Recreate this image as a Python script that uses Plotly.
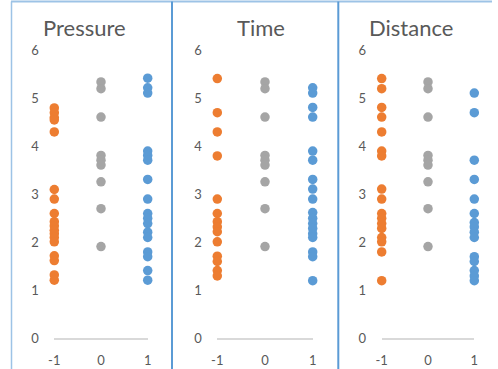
import plotly.graph_objects as go

W, H = 498, 369

panels = ["Pressure", "Time", "Distance"]
x_groups = [-1, 0, 1]
x_ticks = [-1, 0, 1]
y_ticks = [0, 1, 2, 3, 4, 5, 6]

pressure_neg = [4.8, 4.7, 4.6, 4.55, 4.3, 3.1, 2.9, 2.6, 2.43, 2.34, 2.25, 2.18, 2.1, 2.01, 1.72, 1.62, 1.32, 1.21]
pressure_zero = [5.34, 5.2, 4.61, 3.81, 3.71, 3.61, 3.26, 2.7, 1.91]
pressure_pos = [5.42, 5.22, 5.11, 3.9, 3.81, 3.71, 3.31, 2.9, 2.6, 2.5, 2.39, 2.21, 2.1, 1.8, 1.7, 1.41, 1.21]

time_neg = [5.41, 4.7, 4.3, 3.8, 2.9, 2.6, 2.43, 2.32, 2.22, 2.01, 1.71, 1.6, 1.41, 1.3]
time_zero = [5.34, 5.2, 4.61, 3.81, 3.71, 3.61, 3.26, 2.7, 1.91]
time_pos = [5.22, 5.11, 4.81, 4.61, 3.9, 3.71, 3.31, 3.11, 2.9, 2.62, 2.5, 2.39, 2.29, 2.18, 2.1, 1.8, 1.7, 1.2]

distance_neg = [5.41, 5.2, 4.81, 4.61, 4.3, 3.9, 3.8, 3.11, 2.9, 2.6, 2.5, 2.39, 2.29, 2.1, 2.01, 1.8, 1.2]
distance_zero = [5.34, 5.2, 4.61, 3.81, 3.71, 3.61, 3.26, 2.7, 1.91]
distance_pos = [5.11, 4.7, 3.71, 3.31, 2.9, 2.6, 2.41, 2.32, 2.21, 2.1, 1.7, 1.6, 1.41, 1.3, 1.2]

series = [
    [pressure_neg, pressure_zero, pressure_pos],
    [time_neg, time_zero, time_pos],
    [distance_neg, distance_zero, distance_pos],
]
colors = ["#ED7D31", "#A5A5A5", "#5B9BD5"]

FONT = "Lato"
TXT = "#595959"

# pixel layout of each panel's plot area: (x of -1, x of 1)
px_x = [(54.3, 147.7), (217.3, 312.7), (381.7, 474.3)]
y0_px, y6_px = 338.3, 50.3
title_px = [84, 260.5, 411]

fig = go.Figure()
layout = dict(
    template="none",
    width=W, height=H, margin=dict(l=0, r=0, t=0, b=0, pad=0, autoexpand=False),
    paper_bgcolor="white", plot_bgcolor="white", showlegend=False,
    font=dict(family=FONT, color=TXT, size=13),
)
for i, name in enumerate(panels):
    sfx = "" if i == 0 else str(i + 1)
    for g, yv in enumerate(series[i]):
        fig.add_trace(go.Scatter(
            x=[x_groups[g]] * len(yv), y=yv, mode="markers",
            marker=dict(color=colors[g], size=9.5, line=dict(width=0)),
            cliponaxis=False, xaxis="x" + sfx, yaxis="y" + sfx,
        ))
    layout["xaxis" + sfx] = dict(
        domain=[px_x[i][0] / W, px_x[i][1] / W], range=[-1, 1], automargin=False,
        tickvals=x_ticks, ticktext=[str(t) for t in x_ticks],
        showgrid=False, zeroline=False, showline=True, linecolor="#D9D9D9", linewidth=1.5,
        ticks="outside", ticklen=9, tickcolor="rgba(0,0,0,0)",
        tickfont=dict(family=FONT, color=TXT, size=13), anchor="y" + sfx, fixedrange=True,
    )
    layout["yaxis" + sfx] = dict(
        domain=[1 - y0_px / H, 1 - y6_px / H], range=[0, 6], automargin=False,
        tickvals=y_ticks, showgrid=False, zeroline=False, showline=False,
        ticks="outside", ticklen=12, tickcolor="rgba(0,0,0,0)",
        tickfont=dict(family=FONT, color=TXT, size=13), anchor="x" + sfx, fixedrange=True,
    )
    fig.add_annotation(
        x=title_px[i] / W, y=1 - 28 / H, xref="paper", yref="paper",
        text=name, showarrow=False, xanchor="center", yanchor="middle",
        font=dict(family=FONT, color=TXT, size=22),
    )

fig.update_layout(**layout)

# chart frames
shapes = [
    dict(type="line", xref="paper", yref="paper", x0=11 / W, x1=492 / W, y0=1 - 1.5 / H, y1=1 - 1.5 / H,
         line=dict(color="#9DC3E6", width=2)),
    dict(type="line", xref="paper", yref="paper", x0=11.5 / W, x1=11.5 / W, y0=0, y1=1 - 1.5 / H,
         line=dict(color="#9DC3E6", width=1.5)),
    dict(type="line", xref="paper", yref="paper", x0=172 / W, x1=172 / W, y0=0, y1=1 - 1.5 / H,
         line=dict(color="#5B9BD5", width=2)),
    dict(type="line", xref="paper", yref="paper", x0=338.3 / W, x1=338.3 / W, y0=0, y1=1 - 1.5 / H,
         line=dict(color="#5B9BD5", width=2)),
]
fig.update_layout(shapes=shapes)

fig.write_html(
    "out.html",
    config={"displayModeBar": False},
    post_script="document.body.style.margin='0';document.body.style.overflow='hidden';",
)
